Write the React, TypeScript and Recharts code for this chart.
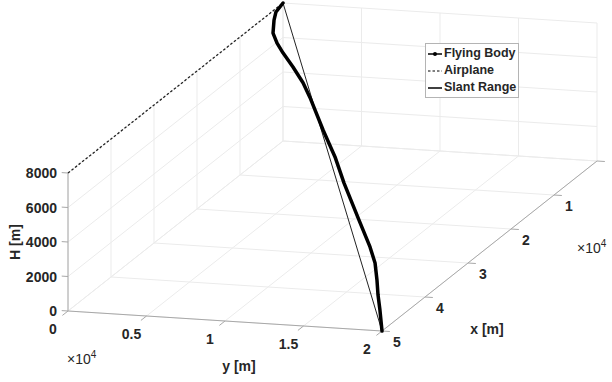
import React from 'react';
import { ComposedChart, Line, Scatter, XAxis, YAxis, ReferenceLine, Legend } from 'recharts';

const W = 612;
const H = 382;

// flying body trajectory [m]
const bodyX = [0, 2000, 3000, 4000, 5000, 6000, 7500, 9000, 10500, 13500, 17000, 21000, 24000, 28000, 33000, 36500, 40000, 43000, 46500, 50000];
const bodyY = [0, 100, 250, 460, 990, 1640, 2690, 3740, 4600, 6250, 7970, 9640, 10900, 12510, 14580, 15860, 16940, 17830, 18910, 20000];
const bodyH = [8000, 7880, 7610, 7070, 6720, 6390, 5920, 5370, 4850, 3660, 2890, 2260, 1940, 1660, 1210, 1040, 810, 580, 460, 0];

// airplane track [m]
const planeX = [50000, 0];
const planeY = [0, 0];
const planeH = [8000, 8000];

// slant range (release point -> impact)
const slantX = [0, 50000];
const slantY = [0, 20000];
const slantH = [8000, 0];

const xTicks = [0, 10000, 20000, 30000, 40000, 50000];
const xTickLabels = ['', '1', '2', '3', '4', '5'];
const yTicks = [0, 5000, 10000, 15000, 20000];
const yTickLabels = ['0', '0.5', '1', '1.5', '2'];
const hTicks = [0, 2000, 4000, 6000, 8000];
const hTickLabels = ['0', '2000', '4000', '6000', '8000'];

const X_MAX = 50000;
const Y_MAX = 20000;
const H_MAX = 8000;

const FONT = '"Liberation Sans", Arial, Helvetica, sans-serif';
const TEXT = '#262626';
const AXIS = '#a8a8a8';
const GRID = '#ebebeb';

// 3-D view -> screen pixels
const proj = (x: number, y: number, h: number) => ({
  sx: 68 + 0.0157 * y - 0.0043 * (x - X_MAX),
  sy: 311 + 0.001 * y + 0.0034 * (x - X_MAX) - 0.01725 * h,
});

const track = (xs: number[], ys: number[], hs: number[]) => xs.map((x, i) => proj(x, ys[i], hs[i]));

type P3 = [number, number, number];
const seg = (a: P3, b: P3) => [proj(...a), proj(...b)];

const gridSegs = [
  ...xTicks.map((x) => seg([x, 0, 0], [x, Y_MAX, 0])),
  ...yTicks.map((y) => seg([0, y, 0], [X_MAX, y, 0])),
  ...xTicks.map((x) => seg([x, 0, 0], [x, 0, H_MAX])),
  ...hTicks.map((h) => seg([0, 0, h], [X_MAX, 0, h])),
  ...yTicks.map((y) => seg([0, y, 0], [0, y, H_MAX])),
  ...hTicks.map((h) => seg([0, 0, h], [0, Y_MAX, h])),
];

const axisSegs = [
  seg([X_MAX, 0, 0], [X_MAX, Y_MAX, 0]),
  seg([X_MAX, Y_MAX, 0], [0, Y_MAX, 0]),
  seg([X_MAX, 0, 0], [X_MAX, 0, H_MAX]),
  ...hTicks.map((h) => seg([X_MAX, 0, h], [X_MAX, -400, h])),
  ...yTicks.map((y) => seg([X_MAX, y, 0], [X_MAX + 1300, y, 0])),
  ...xTicks.map((x) => seg([x, Y_MAX, 0], [x, Y_MAX + 500, 0])),
];

const hLabelData = hTicks.map((h, i) => ({ ...proj(X_MAX, 0, h), text: hTickLabels[i] }));
const yLabelData = yTicks.map((y, i) => ({ ...proj(X_MAX, y, 0), text: yTickLabels[i] }));
const xLabelData = xTicks.map((x, i) => ({ ...proj(x, Y_MAX, 0), text: xTickLabels[i] }));

const textStyle = { fontFamily: FONT, fontWeight: 700, fontSize: 14, fill: TEXT };

const labelShape = (dx: number, dy: number, anchor: 'start' | 'middle' | 'end') => (p: any) => (
  <text x={p.cx + dx} y={p.cy + dy} textAnchor={anchor} dominantBaseline="central" style={textStyle}>
    {p.payload.text}
  </text>
);

const titleData = [{ sx: 15, sy: 242, text: 'H [m]' }];
const yTitleData = [{ sx: 239, sy: 366, text: 'y [m]' }];
const xTitleData = [{ sx: 487, sy: 329, text: 'x [m]' }];
const expData = [
  { sx: 67, sy: 364, text: '×10' },
  { sx: 577, sy: 253, text: '×10' },
];

const legendItems = [
  { name: 'Flying Body', kind: 'dotline' },
  { name: 'Airplane', kind: 'dash' },
  { name: 'Slant Range', kind: 'solid' },
];

const LegendBox = () => (
  <div
    style={{
      border: '1px solid #b4b4b4',
      background: '#fff',
      padding: '1px 2px',
      fontFamily: FONT,
      fontWeight: 700,
      fontSize: 12.5,
      color: TEXT,
      lineHeight: '17px',
      whiteSpace: 'nowrap',
    }}
  >
    {legendItems.map((it) => (
      <div key={it.name} style={{ display: 'flex', alignItems: 'center', height: 17 }}>
        <svg width={16} height={10} style={{ display: 'block' }}>
          <line
            x1={0}
            y1={5}
            x2={14}
            y2={5}
            stroke="#000"
            strokeWidth={it.kind === 'dash' ? 1 : 1.5}
            strokeDasharray={it.kind === 'dash' ? '2.5 2' : undefined}
          />
          {it.kind === 'dotline' && <circle cx={7} cy={5} r={2} fill="#000" />}
        </svg>
        <span>{it.name}</span>
      </div>
    ))}
  </div>
);

export default function App() {
  return (
    <div style={{ position: 'absolute', left: 0, top: 0, width: W, height: H, background: '#fff' }}>
      <ComposedChart width={W} height={H} margin={{ top: 0, right: 0, bottom: 0, left: 0 }}>
        <XAxis type="number" dataKey="sx" domain={[0, W]} hide allowDataOverflow />
        <YAxis type="number" dataKey="sy" domain={[0, H]} reversed hide allowDataOverflow />

        {gridSegs.map((s, i) => (
          <ReferenceLine
            key={`g${i}`}
            segment={[{ x: s[0].sx, y: s[0].sy }, { x: s[1].sx, y: s[1].sy }]}
            stroke={GRID}
            strokeWidth={1}
            ifOverflow="visible"
          />
        ))}
        {axisSegs.map((s, i) => (
          <ReferenceLine
            key={`a${i}`}
            segment={[{ x: s[0].sx, y: s[0].sy }, { x: s[1].sx, y: s[1].sy }]}
            stroke={AXIS}
            strokeWidth={1}
            ifOverflow="visible"
          />
        ))}

        <Line
          name="Airplane"
          data={track(planeX, planeY, planeH)}
          dataKey="sy"
          stroke="#222"
          strokeWidth={1.3}
          strokeDasharray="2.5 2"
          dot={false}
          type="linear"
          isAnimationActive={false}
        />
        <Line
          name="Slant Range"
          data={track(slantX, slantY, slantH)}
          dataKey="sy"
          stroke="#222"
          strokeWidth={1}
          dot={false}
          type="linear"
          isAnimationActive={false}
        />
        <Line
          name="Flying Body"
          data={track(bodyX, bodyY, bodyH)}
          dataKey="sy"
          stroke="#000"
          strokeWidth={3.5}
          strokeLinejoin="round"
          strokeLinecap="round"
          dot={false}
          type="linear"
          isAnimationActive={false}
        />

        <Scatter data={hLabelData} shape={labelShape(-11, 0, 'end')} isAnimationActive={false} legendType="none" />
        <Scatter data={yLabelData} shape={labelShape(-15, 18, 'middle')} isAnimationActive={false} legendType="none" />
        <Scatter data={xLabelData} shape={labelShape(15, 11, 'middle')} isAnimationActive={false} legendType="none" />
        <Scatter
          data={titleData}
          shape={(p: any) => (
            <text
              x={p.cx}
              y={p.cy}
              textAnchor="middle"
              dominantBaseline="central"
              transform={`rotate(-90 ${p.cx} ${p.cy})`}
              style={textStyle}
            >
              {p.payload.text}
            </text>
          )}
          isAnimationActive={false}
          legendType="none"
        />
        <Scatter data={yTitleData} shape={labelShape(0, 0, 'middle')} isAnimationActive={false} legendType="none" />
        <Scatter data={xTitleData} shape={labelShape(0, 0, 'middle')} isAnimationActive={false} legendType="none" />
        <Scatter
          data={expData}
          shape={(p: any) => (
            <text x={p.cx} y={p.cy} textAnchor="start" style={{ ...textStyle, fontWeight: 400, fontSize: 14 }}>
              {p.payload.text}
              <tspan dy={-6} fontSize={10}>
                4
              </tspan>
            </text>
          )}
          isAnimationActive={false}
          legendType="none"
        />

        <Legend
          layout="vertical"
          align="center"
          verticalAlign="middle"
          content={() => <LegendBox />}
          wrapperStyle={{ left: 425, top: 43, width: 'auto', height: 'auto' }}
        />
      </ComposedChart>
    </div>
  );
}
